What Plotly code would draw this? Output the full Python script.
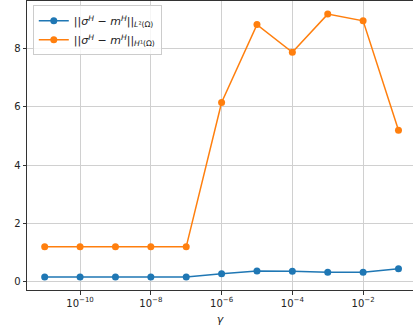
import plotly.graph_objects as go

gamma = [1e-11, 1e-10, 1e-9, 1e-8, 1e-7, 1e-6, 1e-5, 1e-4, 1e-3, 1e-2, 1e-1]
err_l2 = [0.17, 0.17, 0.17, 0.17, 0.17, 0.28, 0.37, 0.36, 0.33, 0.33, 0.45]
err_h1 = [1.20, 1.20, 1.20, 1.20, 1.20, 6.15, 8.82, 7.87, 9.18, 8.95, 5.20]
xtick_vals = [1e-10, 1e-8, 1e-6, 1e-4, 1e-2]
xtick_text = ["10<sup>−10</sup>", "10<sup>−8</sup>", "10<sup>−6</sup>", "10<sup>−4</sup>", "10<sup>−2</sup>"]
ytick_vals = [0, 2, 4, 6, 8]

fig = go.Figure()
fig.add_trace(go.Scatter(
    x=gamma, y=err_l2, mode="lines+markers",
    name="||<i>σ<sup>H</sup></i> − <i>m<sup>H</sup></i>||<sub><i>L</i>²(Ω)</sub>",
    line=dict(color="#1f77b4", width=1.5), marker=dict(size=7, color="#1f77b4")))
fig.add_trace(go.Scatter(
    x=gamma, y=err_h1, mode="lines+markers",
    name="||<i>σ<sup>H</sup></i> − <i>m<sup>H</sup></i>||<sub><i>H</i>¹(Ω)</sub>",
    line=dict(color="#ff7f0e", width=1.5), marker=dict(size=7, color="#ff7f0e")))

axis_common = dict(showline=True, linecolor="#333", linewidth=1, mirror=True,
                   showgrid=True, gridcolor="#d0d0d0", gridwidth=1,
                   ticks="outside", ticklen=3.5, tickcolor="#333", zeroline=False,
                   tickfont=dict(family="DejaVu Sans", size=10, color="#222"))

fig.update_layout(
    width=413, height=332,
    margin=dict(l=27, r=0, t=1, b=42),
    plot_bgcolor="white", paper_bgcolor="white",
    font=dict(family="DejaVu Sans", size=10, color="#222"),
    showlegend=True,
    legend=dict(x=0.015, y=0.985, xanchor="left", yanchor="top",
                bgcolor="rgba(255,255,255,0.8)", bordercolor="#cccccc", borderwidth=1,
                font=dict(family="DejaVu Sans", size=11, color="#222"),
                itemwidth=30, tracegroupgap=2),
    xaxis=dict(type="log", range=[-11.5, -0.59], tickvals=xtick_vals, ticktext=xtick_text,
               title=dict(text="<i>γ</i>", font=dict(size=11), standoff=7), **axis_common),
    yaxis=dict(range=[-0.28, 9.63], tickvals=ytick_vals, **axis_common),
)

fig.write_html("out.html")
